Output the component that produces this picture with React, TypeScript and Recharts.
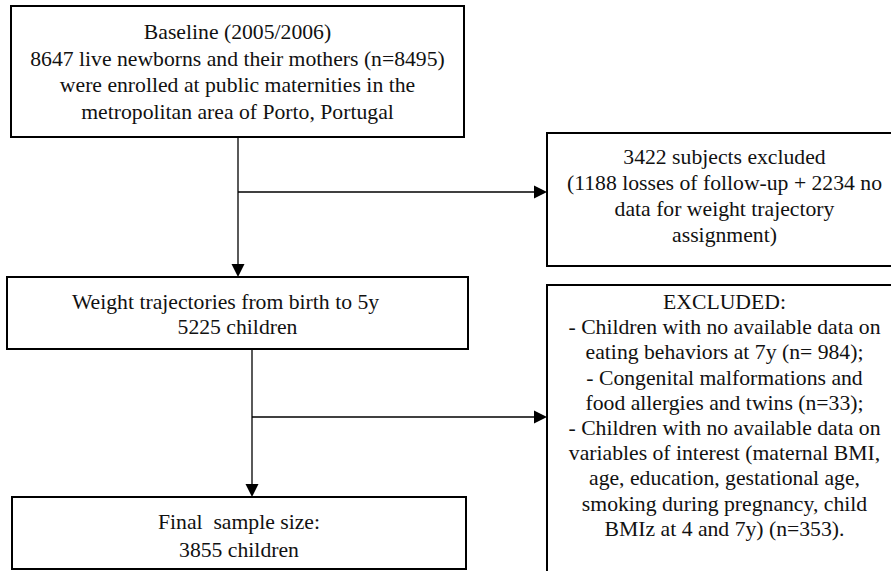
import {
  ComposedChart, XAxis, YAxis, ReferenceArea, ReferenceLine, Scatter,
} from "recharts";

// flowchart is laid out on a 891 x 571 grid (1 unit = 1 px), y grows downward
const W = 891;
const H = 571;

const baselineText = [
  "Baseline (2005/2006)",
  "8647 live newborns and their mothers (n=8495)",
  "were enrolled at public maternities in the",
  "metropolitan area of Porto, Portugal",
];
const lossText = [
  "3422 subjects excluded",
  "(1188 losses of follow-up + 2234 no",
  "data for weight trajectory",
  "assignment)",
];
const trajectoryText = ["Weight trajectories from birth to 5y", "5225 children"];
const exclusionText = [
  "EXCLUDED:",
  "- Children with no available data on",
  "eating behaviors at 7y (n= 984);",
  "- Congenital malformations and",
  "food allergies and twins (n=33);",
  "- Children with no available data on",
  "variables of interest (maternal BMI,",
  "age, education, gestational age,",
  "smoking during pregnancy, child",
  "BMIz at 4 and 7y) (n=353).",
];
const finalText = ["Final\u00a0 sample size:", "3855 children"];

// layout: first = centre of first text line below box top, lh = line spacing
const boxes = [
  { key: "baseline", lines: baselineText, x1: 11, x2: 464, y1: 6, y2: 137, first: 26, lh: 26.7 },
  { key: "loss", lines: lossText, x1: 547, x2: 902, y1: 133, y2: 266, first: 24, lh: 26 },
  { key: "trajectory", lines: trajectoryText, x1: 7, x2: 468, y1: 277, y2: 349, first: 25, lh: 25, dx: [-12, 0] },
  { key: "exclusion", lines: exclusionText, x1: 547, x2: 902, y1: 285, y2: 620, first: 17, lh: 25.2 },
  { key: "final", lines: finalText, x1: 12, x2: 466, y1: 497, y2: 569, first: 25, lh: 28 },
];

const connectors = [
  { from: { x: 238, y: 137 }, to: { x: 238, y: 277 }, dir: "down" },
  { from: { x: 238, y: 192 }, to: { x: 547, y: 192 }, dir: "right" },
  { from: { x: 252, y: 349 }, to: { x: 252, y: 497 }, dir: "down" },
  { from: { x: 252, y: 417 }, to: { x: 547, y: 417 }, dir: "right" },
];

const HEAD = 13;
const FONT = "'Liberation Serif', 'Times New Roman', Times, serif";

const tips = connectors.map((c) => ({ x: c.to.x, y: c.to.y, dir: c.dir }));

function BoxText({ viewBox, lines, dx, first, lh }: any) {
  if (!viewBox) return null;
  const { x, y, width } = viewBox;
  const cx = x + width / 2;
  return (
    <text textAnchor="middle" fontFamily={FONT} fontSize={21.7} fill="#111">
      {lines.map((l: string, i: number) => (
        <tspan key={i} x={cx + (dx ? dx[i] : 0)} y={y + first + i * lh} dominantBaseline="central">
          {l}
        </tspan>
      ))}
    </text>
  );
}

function ArrowHead(props: any) {
  const { cx, cy, payload } = props;
  if (cx == null || cy == null) return null;
  const h = HEAD, w = 6.5;
  const pts = payload.dir === "down"
    ? `${cx},${cy} ${cx - w},${cy - h} ${cx + w},${cy - h}`
    : `${cx},${cy} ${cx - h},${cy - w} ${cx - h},${cy + w}`;
  return <polygon points={pts} fill="#000" />;
}

export default function App() {
  return (
    <div style={{ position: "absolute", left: 0, top: 0, width: W, height: H, background: "#fff" }}>
      <ComposedChart width={W} height={H} margin={{ top: 0, right: 0, bottom: 0, left: 0 }}>
        <XAxis type="number" dataKey="x" domain={[0, W]} allowDataOverflow hide />
        <YAxis type="number" dataKey="y" domain={[0, H]} reversed allowDataOverflow hide />
        {boxes.map((b) => (
          <ReferenceArea
            key={b.key}
            x1={b.x1} x2={b.x2} y1={b.y1} y2={b.y2}
            ifOverflow="hidden"
            fill="#fff" fillOpacity={1} stroke="#000" strokeWidth={2}
            label={(p: any) => <BoxText viewBox={p.viewBox} lines={b.lines} dx={b.dx} first={b.first} lh={b.lh} />}
          />
        ))}
        {connectors.map((c, i) => {
          const end = c.dir === "down" ? { x: c.to.x, y: c.to.y - HEAD + 1 } : { x: c.to.x - HEAD + 1, y: c.to.y };
          return (
            <ReferenceLine
              key={i}
              segment={[c.from, end]}
              ifOverflow="visible"
              stroke="#000"
              strokeWidth={1.3}
            />
          );
        })}
        <Scatter data={tips} dataKey="y" shape={ArrowHead} isAnimationActive={false} />
      </ComposedChart>
    </div>
  );
}
